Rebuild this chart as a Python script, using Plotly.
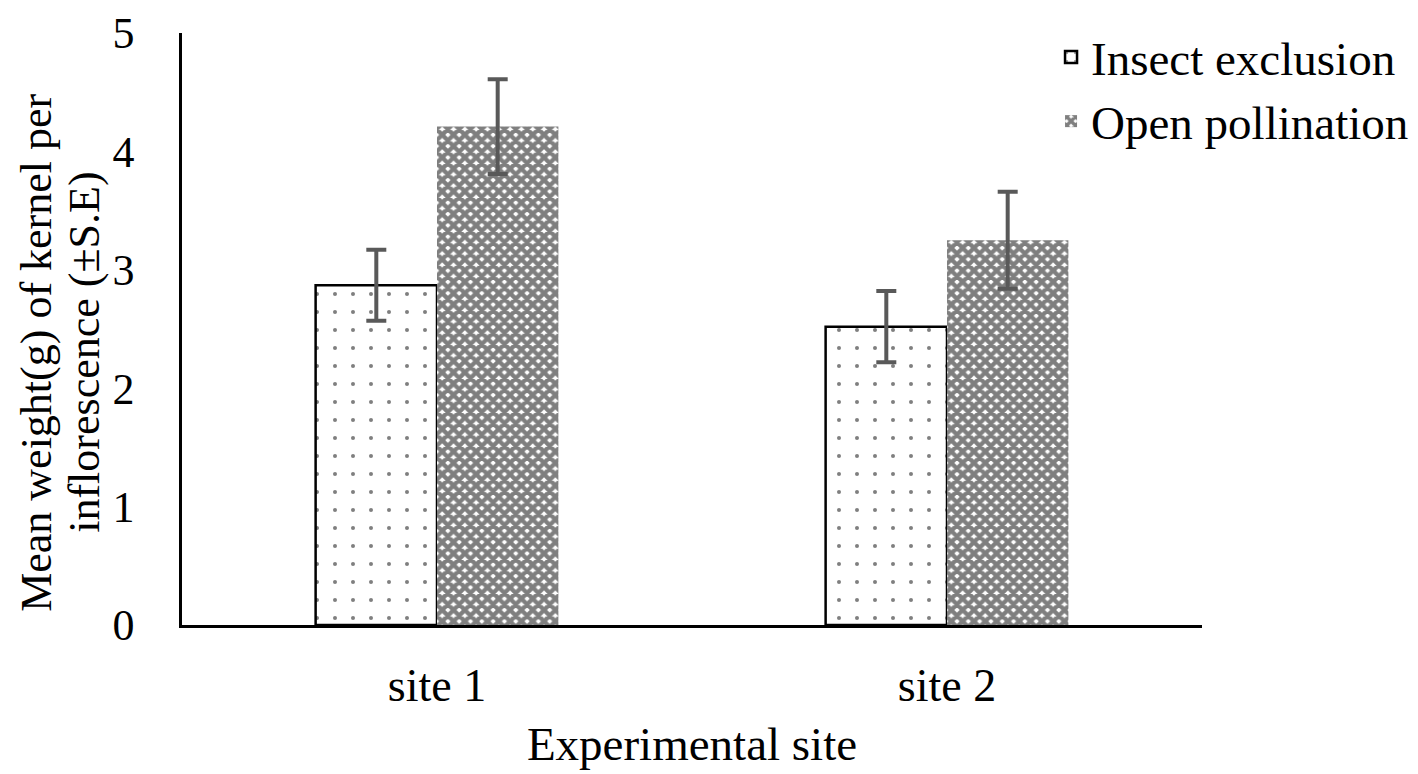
import plotly.graph_objects as go

sites = ["site 1", "site 2"]
insect_exclusion = [2.87, 2.52]
insect_se = [0.30, 0.30]
open_pollination = [4.21, 3.25]
open_se = [0.40, 0.41]

y_title_1 = "Mean weight(g) of kernel per"
y_title_2 = "inflorescence (±S.E)"

font = "Liberation Serif, Times New Roman, serif"

fig = go.Figure()

fig.add_trace(go.Bar(
    name="Insect exclusion",
    x=sites,
    y=insect_exclusion,
    error_y=dict(type="data", array=insect_se, color="#595959", thickness=4, width=10),
    marker=dict(
        color="white",
        line=dict(color="black", width=2.5),
        pattern=dict(shape=".", fgcolor="black", bgcolor="white", size=18, solidity=0.04),
    ),
))

fig.add_trace(go.Bar(
    name="Open pollination",
    x=sites,
    y=open_pollination,
    error_y=dict(type="data", array=open_se, color="#595959", thickness=4, width=10),
    marker=dict(
        color="black",
        line=dict(color="black", width=0),
        pattern=dict(shape="x", fgcolor="black", bgcolor="white", size=8, solidity=0.78),
    ),
))

# two-line y title, tighter line spacing like the original
fig.add_annotation(text=y_title_1, xref="paper", yref="paper", x=-0.142, y=0.46,
                   xanchor="center", yanchor="middle", textangle=-90,
                   showarrow=False, font=dict(size=44))
fig.add_annotation(text=y_title_2, xref="paper", yref="paper", x=-0.095, y=0.46,
                   xanchor="center", yanchor="middle", textangle=-90,
                   showarrow=False, font=dict(size=44))

# page body adds 8px offset, margins compensate
fig.update_layout(
    width=1418, height=774,
    margin=dict(l=174, r=223, t=12, b=157),
    paper_bgcolor="white", plot_bgcolor="white",
    barmode="group", bargap=0.524, bargroupgap=0,
    font=dict(family=font, size=47, color="black"),
    showlegend=True,
    legend=dict(x=0.852, y=1.022, xanchor="left", yanchor="top",
                font=dict(size=47), itemwidth=30, tracegroupgap=0,
                bgcolor="rgba(0,0,0,0)"),
    xaxis=dict(
        automargin=False,
        showline=True, linecolor="black", linewidth=2.5, showgrid=False,
        ticks="outside", ticklen=18, tickcolor="rgba(0,0,0,0)", tickfont=dict(size=46),
        title=dict(text="Experimental site", font=dict(size=47), standoff=18),
    ),
    yaxis=dict(
        automargin=False, ticklabeloverflow="allow",
        range=[0, 5], dtick=1, showline=True, linecolor="black", linewidth=2.5,
        showgrid=False, zeroline=False,
        ticks="outside", ticklen=36, tickcolor="rgba(0,0,0,0)", tickfont=dict(size=44),
    ),
)

fig.write_html("out.html")
